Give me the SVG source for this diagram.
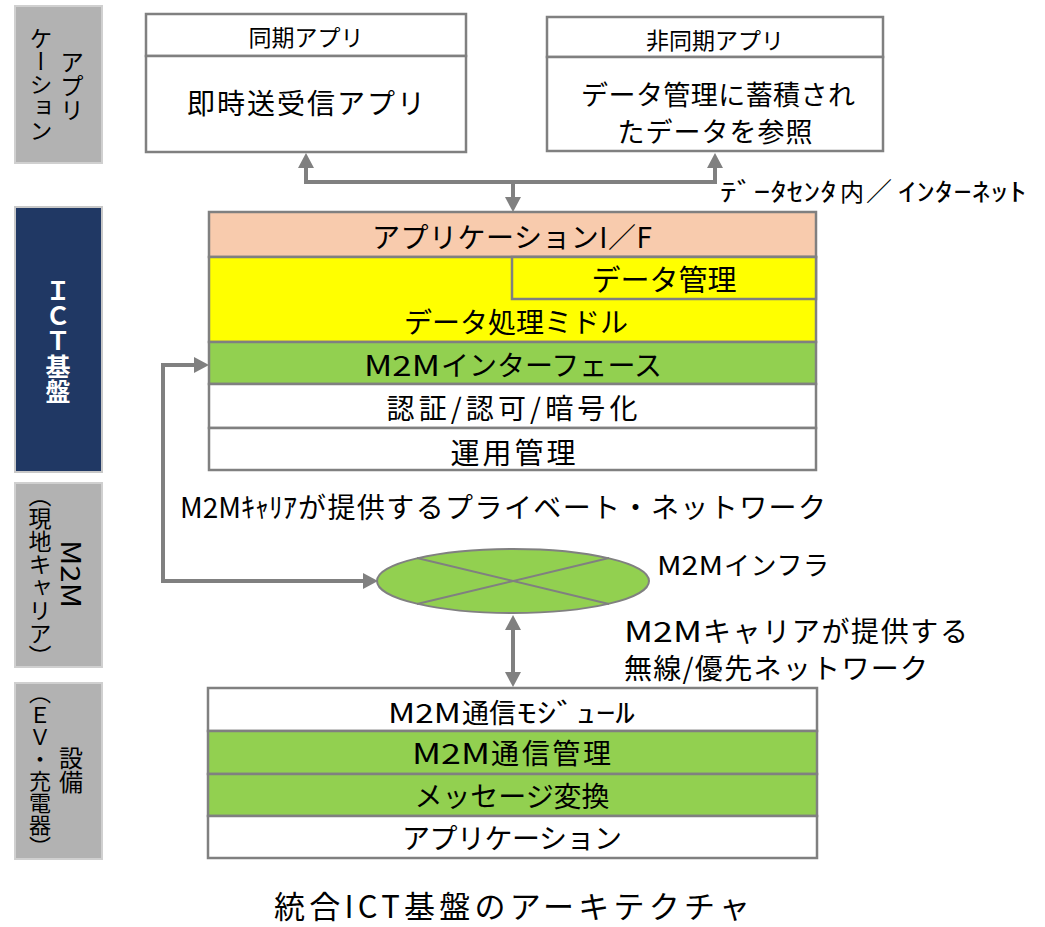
<svg xmlns="http://www.w3.org/2000/svg" width="1045" height="927" viewBox="0 0 1045 927">
<style>
text{font-family:"Noto Sans CJK JP","Noto Sans",sans-serif;fill:#000;}
.c{text-anchor:middle;dominant-baseline:central;}
.m{dominant-baseline:central;}
.box{stroke:#808080;stroke-width:2.5;}
.side{fill:#b2b2b2;stroke:#d0d0d0;stroke-width:2;}
.v{writing-mode:vertical-rl;text-anchor:middle;}
.conn{fill:none;stroke:#808080;stroke-width:4;}
</style>
<defs>
<marker id="ah" markerUnits="userSpaceOnUse" markerWidth="16" markerHeight="16" refX="0" refY="8" orient="auto-start-reverse" viewBox="0 0 16 16">
<path d="M0,0 L15,8 L0,16 z" fill="#808080"/>
</marker>
</defs>

<g id="side-app">
<rect class="side" x="15" y="6" width="87" height="157"/>
<text class="v" x="72" y="86" font-size="24">アプリ</text>
<text class="v" x="41" y="84" font-size="23">ケーション</text>
</g>
<g id="side-ict">
<rect x="15" y="207" width="87" height="265" fill="#203864" stroke="#c8c8c8" stroke-width="2"/>
<text class="v" x="58" y="341" font-size="25" font-weight="bold" style="fill:#fff">ＩＣＴ基盤</text>
</g>
<g id="side-m2m">
<rect class="side" x="15" y="483" width="87" height="184"/>
<text class="c" transform="translate(72,574) rotate(90)" x="0" y="0" font-size="27" textLength="68" lengthAdjust="spacingAndGlyphs">M2M</text>
<text class="v" x="40" y="576" font-size="23">（現地キャリア）</text>
</g>
<g id="side-dev">
<rect class="side" x="15" y="683" width="87" height="176"/>
<text class="v" x="71" y="770" font-size="24">設備</text>
<text class="v" x="40" y="770" font-size="22">（ＥＶ・充電器）</text>
</g>

<g id="sync-app">
<rect class="box" x="146" y="14" width="320" height="42" fill="#fff"/>
<rect class="box" x="146" y="56" width="320" height="96" fill="#fff"/>
<text class="c" x="306" y="36" font-size="23">同期アプリ</text>
<text class="c" x="306" y="102" font-size="28" textLength="238">即時送受信アプリ</text>
</g>
<g id="async-app">
<rect class="box" x="547" y="17" width="336" height="40" fill="#fff"/>
<rect class="box" x="547" y="57" width="336" height="94" fill="#fff"/>
<text class="c" x="715" y="39" font-size="23">非同期アプリ</text>
<text class="c" x="718" y="93" font-size="27" textLength="274">データ管理に蓄積され</text>
<text class="c" x="715" y="130" font-size="27" textLength="195">たデータを参照</text>
</g>

<g id="ict-stack">
<rect class="box" x="209" y="212" width="607" height="45" fill="#f8cbad"/>
<text class="c" x="512" y="236" font-size="28" textLength="280">アプリケーションI／F</text>
<rect class="box" x="209" y="257" width="607" height="85" fill="#ffff00"/>
<rect class="box" x="512" y="257" width="304" height="42" fill="#ffff00"/>
<text class="c" x="664" y="278" font-size="29">データ管理</text>
<text class="c" x="516" y="321" font-size="28" textLength="224">データ処理ミドル</text>
<rect class="box" x="209" y="342" width="607" height="42" fill="#92d050"/>
<text class="m" x="364" y="364" font-size="28" textLength="76" lengthAdjust="spacingAndGlyphs">M2M</text>
<text class="m" x="441" y="364" font-size="28" textLength="221">インターフェース</text>
<rect class="box" x="209" y="384" width="607" height="44" fill="#fff"/>
<text class="c" x="512" y="407" font-size="28" textLength="251">認証/認可/暗号化</text>
<rect class="box" x="209" y="428" width="607" height="42" fill="#fff"/>
<text class="c" x="513" y="451" font-size="29" textLength="125">運用管理</text>
</g>

<g id="infra">
<ellipse cx="513" cy="581" rx="136" ry="32" fill="#92d050" stroke="#808080" stroke-width="2"/>
<line x1="417" y1="558" x2="609" y2="604" stroke="#808080" stroke-width="2"/>
<line x1="417" y1="604" x2="609" y2="558" stroke="#808080" stroke-width="2"/>
</g>

<g id="device-stack">
<rect class="box" x="208" y="688" width="609" height="43" fill="#fff"/>
<text class="m" x="388" y="711" font-size="27" textLength="73" lengthAdjust="spacingAndGlyphs">M2M</text>
<text class="m" x="462" y="711" font-size="27">通信</text>
<text class="m" x="517" y="711" font-size="27" textLength="118" lengthAdjust="spacingAndGlyphs">ﾓｼﾞｭｰﾙ</text>
<rect class="box" x="208" y="731" width="609" height="43" fill="#92d050"/>
<text class="m" x="412" y="752" font-size="28" textLength="78" lengthAdjust="spacingAndGlyphs">M2M</text>
<text class="m" x="491" y="752" font-size="28" textLength="120">通信管理</text>
<rect class="box" x="208" y="774" width="609" height="42" fill="#92d050"/>
<text class="c" x="512" y="795" font-size="28" textLength="195">メッセージ変換</text>
<rect class="box" x="208" y="816" width="609" height="42" fill="#fff"/>
<text class="c" x="512" y="837" font-size="28" textLength="220">アプリケーション</text>
</g>

<g id="connectors">
<path class="conn" d="M306,168 V182 H715 V168" marker-start="url(#ah)" marker-end="url(#ah)"/>
<path class="conn" d="M513,182 V197" marker-end="url(#ah)"/>
<path class="conn" d="M194,365 H163 V581 H363" marker-start="url(#ah)" marker-end="url(#ah)"/>
<path class="conn" d="M513,630 V672" marker-start="url(#ah)" marker-end="url(#ah)"/>
</g>

<g id="labels">
<text x="720" y="201" font-size="25" textLength="117" lengthAdjust="spacingAndGlyphs">ﾃﾞｰﾀｾﾝﾀ</text>
<text x="840" y="201" font-size="24">内</text>
<text x="866" y="201" font-size="26">／</text>
<text x="898" y="201" font-size="25" textLength="129" lengthAdjust="spacingAndGlyphs">ｲﾝﾀｰﾈｯﾄ</text>
<text class="m" x="180" y="506" font-size="28" textLength="117" lengthAdjust="spacingAndGlyphs">M2Mｷｬﾘｱ</text>
<text class="m" x="298" y="506" font-size="28" textLength="528">が提供するプライベート・ネットワーク</text>
<text class="m" x="657" y="563" font-size="26" textLength="66" lengthAdjust="spacingAndGlyphs">M2M</text>
<text class="m" x="724" y="563" font-size="26" textLength="105">インフラ</text>
<text class="m" x="624" y="630" font-size="28" textLength="78" lengthAdjust="spacingAndGlyphs">M2M</text>
<text class="m" x="703" y="630" font-size="28" textLength="265">キャリアが提供する</text>
<text class="m" x="624" y="667" font-size="28" textLength="304">無線/優先ネットワーク</text>
<text class="c" x="512" y="904" font-size="31" textLength="476">統合ICT基盤のアーキテクチャ</text>
</g>
</svg>
